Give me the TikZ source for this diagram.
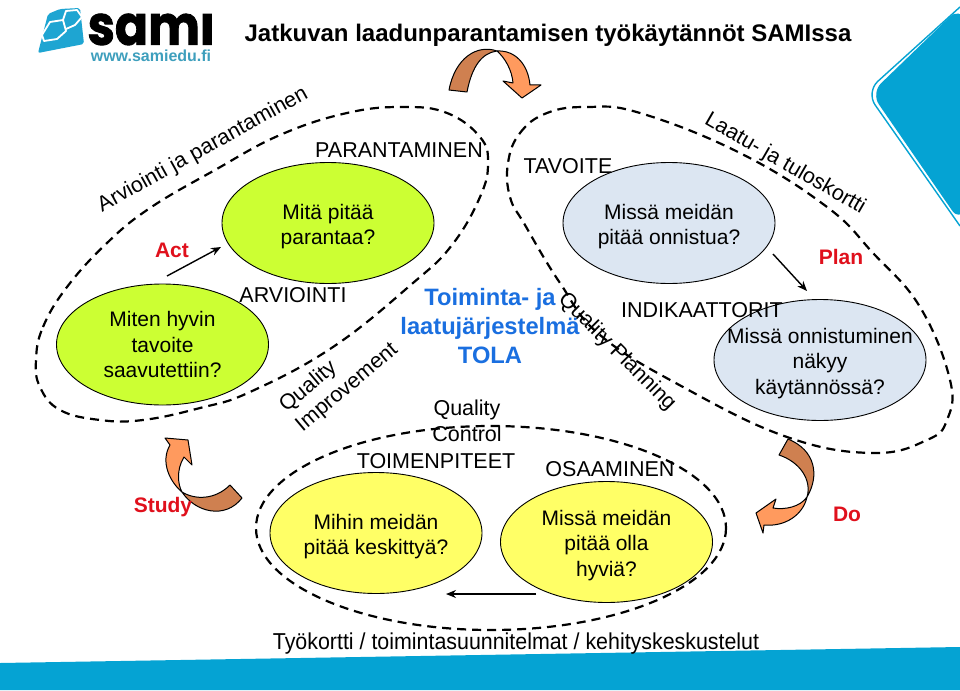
\documentclass[tikz,border=0pt]{standalone}
\usepackage{fontspec}
\setmainfont{Liberation Sans}
\usetikzlibrary{arrows.meta,shapes.geometric}
\definecolor{samiblue}{HTML}{05A3D3}
\definecolor{logoblue}{HTML}{1EA5D2}
\definecolor{wwwblue}{HTML}{3E9FBD}
\definecolor{limefill}{HTML}{CCFF33}
\definecolor{skyfill}{HTML}{DCE6F2}
\definecolor{sunfill}{HTML}{FFFF66}
\definecolor{pdcared}{HTML}{E0101C}
\definecolor{tolablue}{HTML}{1A6FE0}
\definecolor{bendlight}{HTML}{FF9A5E}
\definecolor{benddark}{HTML}{CF8050}
\newcommand{\dropline}{\rule{0pt}{22pt}}
\tikzset{
  qbubble/.style={draw=black, ellipse, minimum width=212pt, minimum height=121pt, inner sep=-20pt, align=center, line width=0.9pt, font=\fontsize{21}{25.5}\selectfont},
  plainlabel/.style={align=center, inner sep=0pt, font=\fontsize{21.5}{25.5}\selectfont},
  pdcalabel/.style={text=pdcared, inner sep=0pt, font=\fontsize{21}{25}\selectfont\bfseries},
  bandline/.style={black, line width=2.2pt, dash pattern=on 9pt off 6pt},
  thinarrow/.style={-{Stealth[length=10pt, width=8pt]}, black, line width=1.4pt},
  bendarrow/.style={draw=black, line width=1pt, line join=round}
}
\begin{document}
\begin{tikzpicture}[x=1pt, y=-1pt]
      \useasboundingbox [fill=white] (0, 0) rectangle (960, 690);

      \fill [samiblue] (0, 663) -- (960, 647) -- (960, 690) -- (0, 690) -- cycle;
      \fill [samiblue, rounded corners=14pt] (960, 7) -- (871, 93) -- (960, 222) -- (1000, 100) -- cycle;
      \draw [samiblue, line width=1.4pt, rounded corners=16pt] (960, 7) -- (866, 92) -- (960, 226);

      \fill [logoblue, rounded corners=2pt] (38, 53) -- (48, 14) -- (60, 9) -- (80, 8) -- (84, 44) -- cycle;
      \draw [white, line width=1.8pt, line join=round] (42, 35) -- (50, 22) -- (63, 20) -- (66, 31) -- (57, 39) -- (44, 41) -- cycle;
      \draw [white, line width=1.8pt, line join=round] (63, 20) -- (66, 11) -- (77, 10) -- (82, 17) -- (75, 25) -- (66, 29);
      \begin{scope}
        \clip (85, 14) rectangle (220, 48);
        \node (sami) [inner sep=0pt, anchor=center, xscale=0.89] at (151, 23) {\fontsize{55}{55}\selectfont\fontspec[FakeBold=1.6]{Poppins}\bfseries sami};
      \end{scope}
      \node (samiweb) [inner sep=0pt, text=wwwblue] at (151, 56) {\fontsize{16}{18}\selectfont\bfseries www.samiedu.fi};
      \node (title) [inner sep=0pt] at (548, 35) {\fontsize{24}{28}\selectfont\bfseries Jatkuvan laadunparantamisen työkäytännöt SAMIssa};

      \draw [bandline] plot [smooth cycle, tension=0.7] coordinates {(36,360) (43,327) (67,287) (107,243) (150,208) (215,170) (280,135) (347,113) (403,107) (447,113) (480,137) (488,163) (480,197) (452,245) (413,283) (333,347) (250,392) (200,408) (143,420) (100,420) (60,410) (40,387)};
      \draw [bandline] plot [smooth cycle, tension=0.7] coordinates {(508,163) (520,133) (547,113) (587,107) (640,113) (740,153) (827,207) (873,253) (920,307) (950,380) (947,420) (927,440) (873,453) (787,437) (683,387) (600,335) (560,283) (525,225) (510,197)};
      \draw [bandline] (491, 528) ellipse [x radius=235, y radius=102];

      \node (mita) [qbubble, fill=limefill] at (328, 223) {\dropline Mitä pitää\\parantaa?};
      \node (miten) [qbubble, fill=limefill] at (162.5, 344.5) {Miten hyvin\\tavoite\\saavutettiin?};
      \node (onnistua) [qbubble, fill=skyfill] at (669, 223) {\dropline Missä meidän\\pitää onnistua?};
      \node (nakyy) [qbubble, fill=skyfill] at (820, 360) {\dropline Missä onnistuminen\\näkyy\\käytännössä?};
      \node (keskitty) [qbubble, fill=sunfill] at (376, 533) {\dropline Mihin meidän\\pitää keskittyä?};
      \node (hyvia) [qbubble, fill=sunfill] at (606.5, 542) {\dropline Missä meidän\\pitää olla\\hyviä?};

      \coordinate (actfrom) at (167, 276);
      \coordinate (actto) at (221, 247);
      \coordinate (planfrom) at (773, 254);
      \coordinate (planto) at (807, 291);
      \coordinate (checkfrom) at (536, 594);
      \coordinate (checkto) at (446, 594);
      \draw [thinarrow] (actfrom) -- (actto);
      \draw [thinarrow] (planfrom) -- (planto);
      \draw [thinarrow] (checkfrom) -- (checkto);

      \draw [bendarrow, fill=benddark] (449, 90) .. controls (455, 58) and (477, 44) .. (497, 51) .. controls (482, 53) and (472, 66) .. (467, 92) -- cycle;
      \draw [bendarrow, fill=bendlight] (497, 51) .. controls (515, 50) and (528, 64) .. (530, 85) -- (541, 85) -- (522, 98) -- (503, 81) -- (513, 83) .. controls (512, 70) and (505, 58) .. (497, 51) -- cycle;
      \draw [bendarrow, fill=benddark] (182, 492) .. controls (195, 512) and (225, 520) .. (242, 498) -- (230, 485) .. controls (215, 500) and (195, 500) .. (182, 492) -- cycle;
      \draw [bendarrow, fill=bendlight] (170, 445) -- (165, 438) -- (188, 440) -- (192, 465) -- (184, 457) .. controls (176, 470) and (178, 485) .. (182, 492) .. controls (170, 482) and (160, 462) .. (170, 445) -- cycle;
      \draw [bendarrow, fill=benddark] (788, 439) -- (779, 455) .. controls (800, 462) and (812, 480) .. (807, 497) .. controls (820, 475) and (815, 450) .. (788, 439) -- cycle;
      \draw [bendarrow, fill=bendlight] (807, 497) .. controls (800, 507) and (785, 510) .. (773, 508) -- (776, 499) -- (756, 513) -- (763, 533) -- (764, 525) .. controls (785, 527) and (803, 515) .. (807, 497) -- cycle;

      \node (parantaminen) [plainlabel] at (399, 150) {PARANTAMINEN};
      \node (tavoite) [plainlabel] at (568, 166) {TAVOITE};
      \node (arviointi) [plainlabel] at (293, 295) {ARVIOINTI};
      \node (indikaattorit) [plainlabel] at (702, 310) {INDIKAATTORIT};
      \node (toimenpiteet) [plainlabel] at (436, 461) {TOIMENPITEET};
      \node (osaaminen) [plainlabel] at (610, 469) {OSAAMINEN};
      \node (qcontrol) [plainlabel] at (467, 421) {Quality\\Control};
      \node (tyokortti) [plainlabel, xscale=0.93, font=\fontsize{23}{26}\selectfont] at (516, 644) {Työkortti / toimintasuunnitelmat / kehityskeskustelut};

      \node (arvband) [plainlabel, rotate=29] at (203, 150) {Arviointi ja parantaminen};
      \node (laatuband) [plainlabel, rotate=-30] at (785, 164) {Laatu- ja tuloskortti};
      \node (qimprove) [plainlabel, rotate=40, align=left] at (339, 378) {Quality\\Improvement};
      \node (qplanning) [plainlabel, rotate=-45] at (617, 352) {Quality Planning};

      \node (tola) [inner sep=0pt, align=center, text=tolablue, font=\fontsize{23.7}{29}\selectfont\bfseries] at (490, 326) {Toiminta- ja\\laatujärjestelmä\\TOLA};

      \node (act) [pdcalabel] at (172, 250) {Act};
      \node (study) [pdcalabel] at (163, 507) {Study};
      \node (plan) [pdcalabel] at (841, 257) {Plan};
      \node (do) [pdcalabel] at (847, 514) {Do};
\end{tikzpicture}
\end{document}
